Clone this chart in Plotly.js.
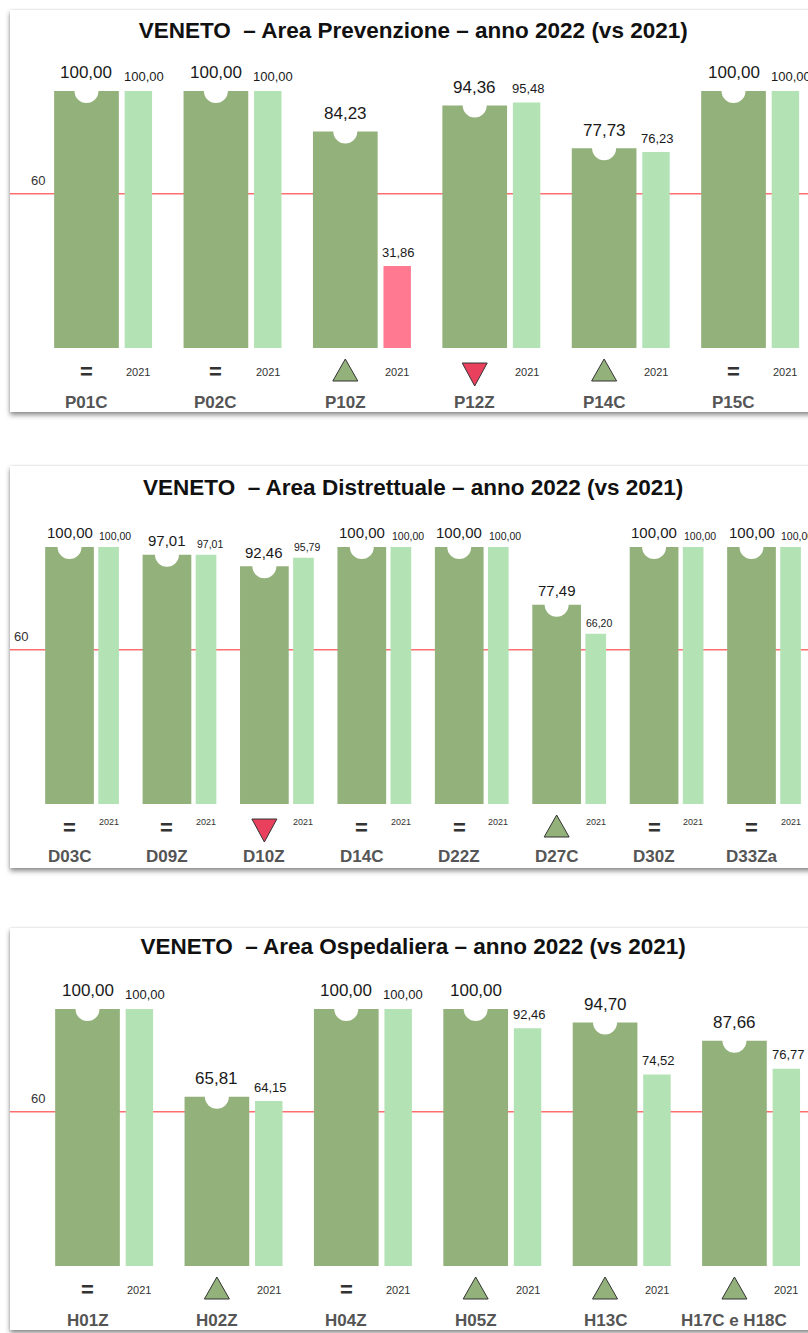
<!DOCTYPE html>
<html>
<head>
<meta charset="utf-8">
<script src="https://cdn.plot.ly/plotly-3.0.1.min.js"></script>
<style>
  html, body { margin: 0; padding: 0; background: #fff; width: 808px; height: 1333px; overflow: hidden; }
  .card { position: absolute; left: 10px; width: 840px; height: 402px; background: #fff;
          box-shadow: 0 3px 5px rgba(0,0,0,0.45), 0 0 2px rgba(0,0,0,0.12); }
</style>
</head>
<body>
<div id="p1" class="card" style="top:10px"></div>
<div id="p2" class="card" style="top:466px"></div>
<div id="p3" class="card" style="top:928px"></div>
<script>
// ---------------- DATA ----------------
const THRESHOLD = 60;
const YEAR_PREV = '2021';

const TITLE_1 = 'VENETO\u00a0\u00a0– Area Prevenzione – anno 2022 (vs 2021)';
const CATS_1 = ['P01C', 'P02C', 'P10Z', 'P12Z', 'P14C', 'P15C'];
const V2022_1 = [100.00, 100.00, 84.23, 94.36, 77.73, 100.00];
const V2021_1 = [100.00, 100.00, 31.86, 95.48, 76.23, 100.00];

const TITLE_2 = 'VENETO\u00a0\u00a0– Area Distrettuale – anno 2022 (vs 2021)';
const CATS_2 = ['D03C', 'D09Z', 'D10Z', 'D14C', 'D22Z', 'D27C', 'D30Z', 'D33Za'];
const V2022_2 = [100.00, 97.01, 92.46, 100.00, 100.00, 77.49, 100.00, 100.00];
const V2021_2 = [100.00, 97.01, 95.79, 100.00, 100.00, 66.20, 100.00, 100.00];

const TITLE_3 = 'VENETO\u00a0\u00a0– Area Ospedaliera – anno 2022 (vs 2021)';
const CATS_3 = ['H01Z', 'H02Z', 'H04Z', 'H05Z', 'H13C', 'H17C e H18C'];
const V2022_3 = [100.00, 65.81, 100.00, 100.00, 94.70, 87.66];
const V2021_3 = [100.00, 64.15, 100.00, 92.46, 74.52, 76.77];

// ---------------- STYLE ----------------
const FONT = 'Liberation Sans, Arial, Helvetica, sans-serif';
const C_DARK = '#93b17b';
const C_LIGHT = '#b3e2b4';
const C_LOW = '#ff7a91';
const C_DOWN = '#e8405d';
const C_LINE = '#ff6f6f';

const DARK_W = 0.5, LIGHT_OFF = 0.295, LIGHT_W = 0.212;

function fmt(v) { return v.toFixed(2).replace('.', ','); }

function drawPanel(id, title, cats, cur, prev, st) {
  const xs = cats.map((c, i) => i);
  const traces = [
    { type: 'bar', x: xs, y: cur, base: 0, width: xs.map(() => DARK_W), offset: -DARK_W / 2,
      marker: { color: C_DARK }, hoverinfo: 'skip' },
    { type: 'bar', x: xs, y: prev, width: xs.map(() => LIGHT_W), offset: LIGHT_OFF,
      marker: { color: prev.map(v => v < THRESHOLD ? C_LOW : C_LIGHT) }, hoverinfo: 'skip' },
    // notch on top of current-year bars
    { type: 'scatter', mode: 'markers', x: xs, y: cur,
      marker: { symbol: 'circle', size: st.notch, color: '#ffffff', line: { width: 0 } }, hoverinfo: 'skip' }
  ];

  const ann = [];
  const shapes = [
    { type: 'line', xref: 'paper', x0: 0, x1: 1, yref: 'y', y0: THRESHOLD, y1: THRESHOLD,
      line: { color: C_LINE, width: 1.6 }, layer: 'below' }
  ];
  ann.push({ xref: 'paper', x: 0, xanchor: 'left', xshift: st.thrX, yref: 'y', y: THRESHOLD,
    yanchor: 'middle', yshift: 13, text: String(THRESHOLD), showarrow: false,
    font: { family: FONT, size: 13, color: '#333' } });

  cats.forEach((c, i) => {
    const lx = i + LIGHT_OFF;
    const lc = i + LIGHT_OFF + LIGHT_W / 2;
    ann.push({ x: i, y: cur[i], yshift: st.curShift, text: fmt(cur[i]), showarrow: false,
      yanchor: 'middle', font: { family: FONT, size: st.curSize, color: '#1a1a1a' } });
    ann.push({ x: lx, y: prev[i], xanchor: 'left', xshift: st.prevX, yshift: st.prevShift,
      text: fmt(prev[i]), showarrow: false,
      yanchor: 'middle', font: { family: FONT, size: st.prevSize, color: '#1a1a1a' } });
    ann.push({ x: lc, y: 0, yshift: st.yearShift, text: YEAR_PREV, showarrow: false,
      yanchor: 'middle', font: { family: FONT, size: st.yearSize, color: '#333' } });
    ann.push({ x: i, y: 0, yshift: st.catShift, text: '<b>' + c + '</b>', showarrow: false,
      yanchor: 'middle', font: { family: FONT, size: st.catSize, color: '#555' } });
    if (cur[i] > prev[i]) {
      shapes.push({ type: 'path', xref: 'x', yref: 'y', xsizemode: 'pixel', ysizemode: 'pixel',
        xanchor: i, yanchor: 0, path: 'M -12.5 -33 L 12.5 -33 L 0 -11 Z',
        fillcolor: C_DARK, line: { color: '#333', width: 1 } });
    } else if (cur[i] < prev[i]) {
      shapes.push({ type: 'path', xref: 'x', yref: 'y', xsizemode: 'pixel', ysizemode: 'pixel',
        xanchor: i, yanchor: 0, path: 'M -12.5 -15 L 12.5 -15 L 0 -38 Z',
        fillcolor: C_DOWN, line: { color: '#333', width: 1 } });
    } else {
      ann.push({ x: i, y: 0, yshift: -23, text: '<b>=</b>', showarrow: false,
        yanchor: 'middle', font: { family: FONT, size: 22, color: '#333' } });
    }
  });

  const layout = {
    width: 840, height: 402,
    margin: { l: 0, r: 0, t: 0, b: 0, pad: 0 },
    paper_bgcolor: '#fff', plot_bgcolor: '#fff',
    showlegend: false, barmode: 'overlay', hovermode: false,
    title: { text: '<b>' + title + '</b>', xref: 'container', x: st.titleX, xanchor: 'center',
      yref: 'container', y: 1 - st.titleY / 402, yanchor: 'middle',
      font: { family: FONT, size: 22.5, color: '#111' } },
    xaxis: { range: st.xRange, visible: false, fixedrange: true },
    yaxis: { range: [-24.9, 131.5], visible: false, fixedrange: true },
    shapes: shapes, annotations: ann
  };
  Plotly.newPlot(id, traces, layout, { staticPlot: true, displayModeBar: false });
}

drawPanel('p1', TITLE_1, CATS_1, V2022_1, V2021_1, {
  xRange: [-0.591, 5.9], notch: 24, curShift: 18, curSize: 17, prevShift: 14, prevSize: 13,
  prevX: -3, yearShift: -24, yearSize: 11, catShift: -54, catSize: 17, thrX: 19, titleX: 0.48, titleY: 20 });
drawPanel('p2', TITLE_2, CATS_2, V2022_2, V2021_2, {
  xRange: [-0.611, 8.011], notch: 24, curShift: 14, curSize: 15, prevShift: 11, prevSize: 10.5,
  prevX: -1, yearShift: -18, yearSize: 9, catShift: -52, catSize: 17, thrX: 2, titleX: 0.48, titleY: 21 });
drawPanel('p3', TITLE_3, CATS_3, V2022_3, V2021_3, {
  xRange: [-0.599, 5.893], notch: 24, curShift: 18, curSize: 17, prevShift: 14, prevSize: 13,
  prevX: -3, yearShift: -24, yearSize: 11, catShift: -54, catSize: 17, thrX: 19, titleX: 0.48, titleY: 18 });
</script>
</body>
</html>
